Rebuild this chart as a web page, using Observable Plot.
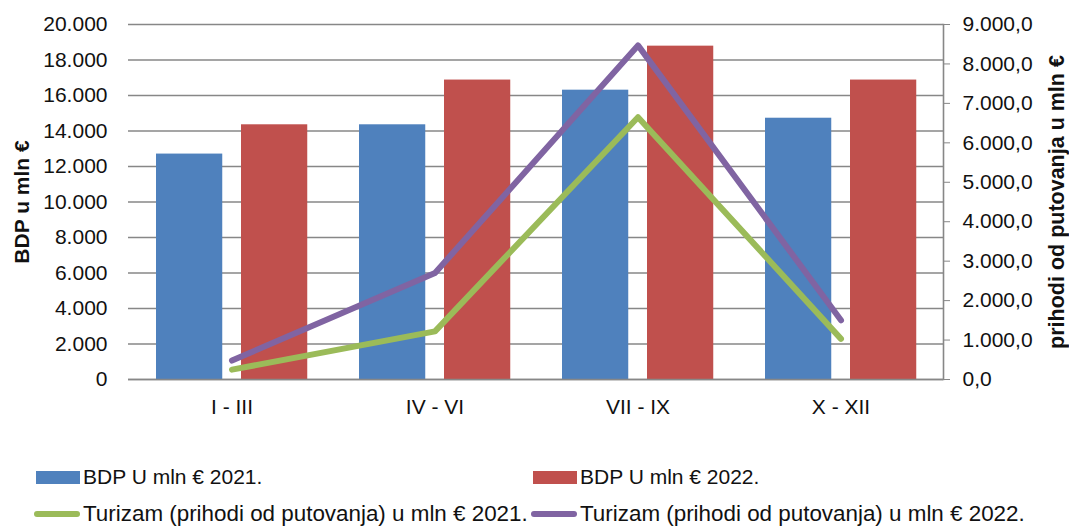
<!DOCTYPE html>
<html>
<head>
<meta charset="utf-8">
<script src="https://cdn.jsdelivr.net/npm/d3@7"></script>
<script src="https://cdn.jsdelivr.net/npm/@observablehq/plot@0.6"></script>
<style>
  body { margin: 0; background: #fff; font-family: "Liberation Sans", Arial, sans-serif; }
  #wrap { position: relative; width: 1069px; height: 526px; }
  .leg { position: absolute; color: #111; display: flex; align-items: center; white-space: nowrap; }
  .sw { display: inline-block; width: 44px; height: 13px; margin-right: 3px; }
  .ln { display: inline-block; width: 46px; height: 6px; border-radius: 3px; margin-right: 3px; }
</style>
</head>
<body>
<div id="wrap"></div>
<script>
const categories = ["I - III", "IV - VI", "VII - IX", "X - XII"];
const bdp2021 = [12700, 14350, 16300, 14720];
const bdp2022 = [14350, 16870, 18780, 16870];
const tur2021 = [250, 1220, 6650, 1030];
const tur2022 = [480, 2700, 8470, 1500];
const leftTicks = [0, 2000, 4000, 6000, 8000, 10000, 12000, 14000, 16000, 18000, 20000];
const rightTicks = [0, 1000, 2000, 3000, 4000, 5000, 6000, 7000, 8000, 9000];
const leftMax = 20000, rightMax = 9000;
const seriesNames = ["BDP U mln € 2021.", "BDP U mln € 2022.", "Turizam (prihodi od putovanja) u mln € 2021.", "Turizam (prihodi od putovanja) u mln € 2022."];
const colors = ["#4F81BD", "#C0504D", "#9BBB59", "#8064A2"];

const loc = d3.formatLocale({decimal: ",", thousands: ".", grouping: [3], currency: ["", "€"]});
const fmtL = loc.format(",.0f");
const fmtR = loc.format(",.1f");
const k = leftMax / rightMax;

const bars21 = categories.map((c, i) => ({cat: c, v: bdp2021[i]}));
const bars22 = categories.map((c, i) => ({cat: c, v: bdp2022[i]}));
const line21 = categories.map((c, i) => ({cat: c, v: tur2021[i]}));
const line22 = categories.map((c, i) => ({cat: c, v: tur2022[i]}));

const grid = "#878787";
const chart = Plot.plot({
  width: 1069,
  height: 440,
  marginLeft: 128,
  marginRight: 126,
  marginTop: 24,
  marginBottom: 61,
  style: {fontFamily: "Liberation Sans, Arial, sans-serif", fontSize: "21px", color: "#111", background: "#fff"},
  x: {domain: categories, padding: 0, label: null},
  y: {domain: [0, leftMax], label: null},
  marks: [
    Plot.gridY(leftTicks, {stroke: grid, strokeOpacity: 1, strokeWidth: 1.6}),
    Plot.barY(bars21, {x: "cat", y: "v", fill: colors[0], insetLeft: 26, insetRight: 110.75}),
    Plot.barY(bars22, {x: "cat", y: "v", fill: colors[1], insetLeft: 111, insetRight: 25.75}),
    Plot.ruleY([0], {stroke: grid, strokeWidth: 1.6}),
    Plot.frame({anchor: "right", stroke: grid, strokeWidth: 1.6}),
    Plot.line(line21, {x: "cat", y: d => d.v * k, stroke: colors[2], strokeWidth: 6, strokeLinecap: "round", strokeLinejoin: "round"}),
    Plot.line(line22, {x: "cat", y: d => d.v * k, stroke: colors[3], strokeWidth: 6, strokeLinecap: "round", strokeLinejoin: "round"}),
    Plot.axisY(leftTicks, {anchor: "left", tickSize: 0, tickPadding: 21, tickFormat: fmtL, label: null, fontSize: 21}),
    Plot.axisY(rightTicks.map(v => v * k), {anchor: "right", tickSize: 6, tickPadding: 13, stroke: grid, tickFormat: d => fmtR(d / k), label: null, fontSize: 21}),
    Plot.axisX({tickSize: 0, tickPadding: 20, label: null, fontSize: 21}),
    Plot.text(["BDP u mln €"], {frameAnchor: "left", dx: -106, rotate: -90, textAnchor: "middle", fontWeight: "bold", fontSize: 21, fill: "#111"}),
    Plot.text(["prihodi od putovanja u mln €"], {frameAnchor: "right", dx: 114, rotate: -90, textAnchor: "middle", fontWeight: "bold", fontSize: 21.5, fill: "#111"})
  ]
});
const wrap = document.getElementById("wrap");
wrap.appendChild(chart);

const legPos = [[36, 477, 21], [533, 477, 21], [34, 514, 22.4], [531, 514, 22.4]];
seriesNames.forEach((name, i) => {
  const d = document.createElement("div");
  d.className = "leg";
  d.style.left = legPos[i][0] + "px";
  d.style.top = (legPos[i][1] - 13) + "px";
  d.style.height = "26px";
  d.style.fontSize = legPos[i][2] + "px";
  const s = document.createElement("span");
  s.className = i < 2 ? "sw" : "ln";
  s.style.background = colors[i];
  d.appendChild(s);
  d.appendChild(document.createTextNode(name));
  wrap.appendChild(d);
});
</script>
</body>
</html>
